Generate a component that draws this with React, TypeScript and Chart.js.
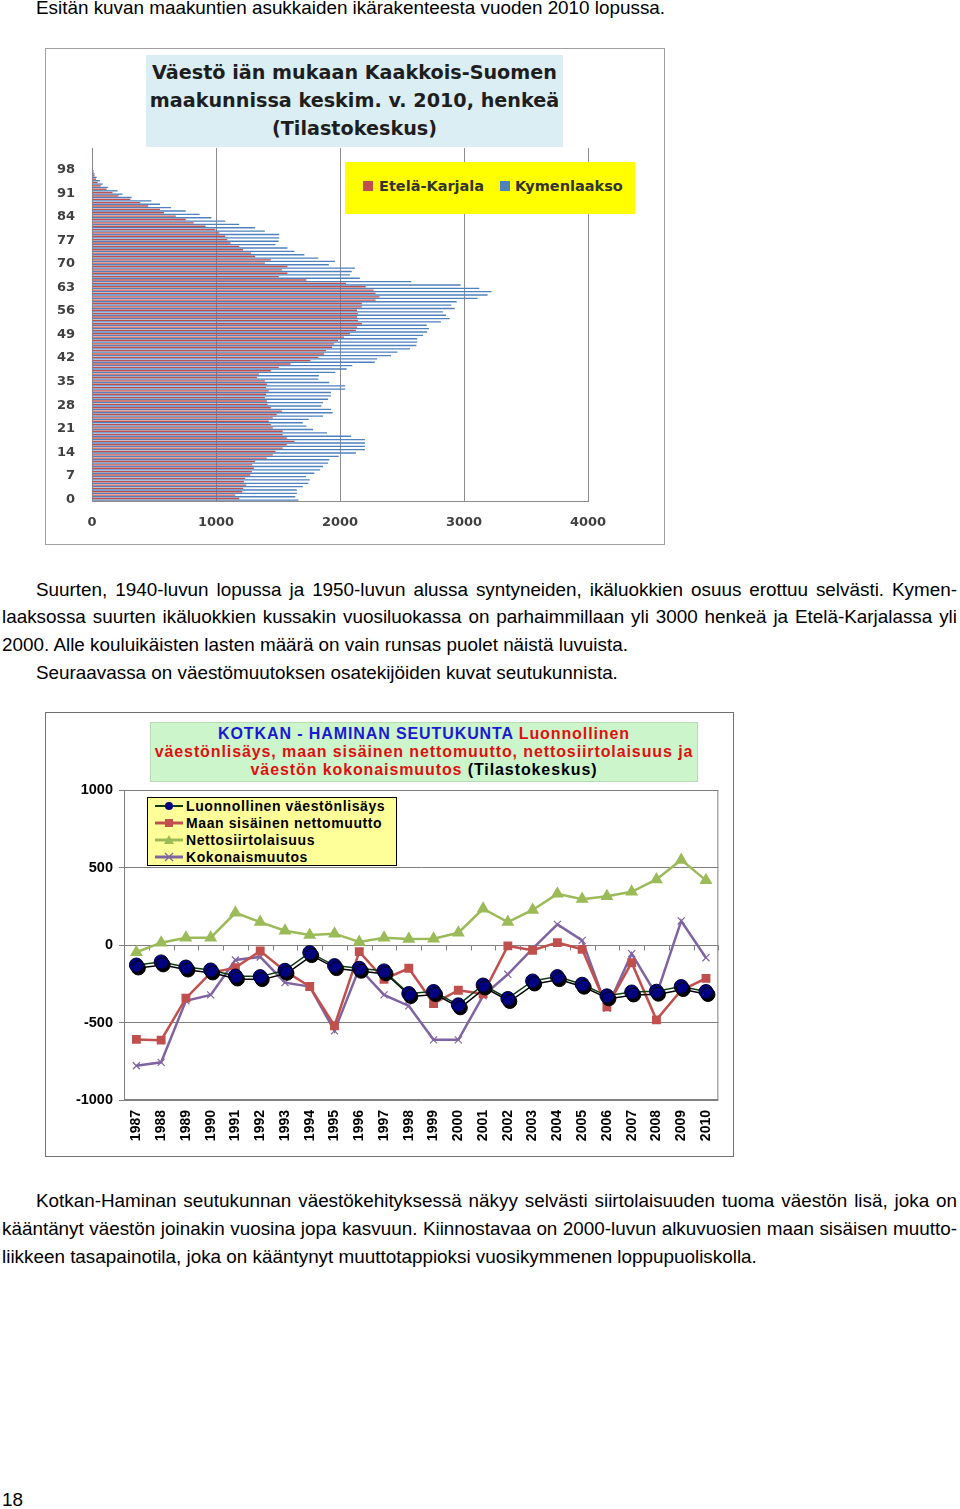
import React, { useEffect, useRef } from 'react';
import { Chart, registerables } from 'chart.js';

Chart.register(...registerables);

// ---------- Chart 1: population by age ----------
const AGES = ['0','1','2','3','4','5','6','7','8','9','10','11','12','13','14','15','16','17','18','19','20','21','22','23','24','25','26','27','28','29','30','31','32','33','34','35','36','37','38','39','40','41','42','43','44','45','46','47','48','49','50','51','52','53','54','55','56','57','58','59','60','61','62','63','64','65','66','67','68','69','70','71','72','73','74','75','76','77','78','79','80','81','82','83','84','85','86','87','88','89','90','91','92','93','94','95','96','97','98','99','100','101','102','103','104'];
const AGE_TICKS = ['0','7','14','21','28','35','42','49','56','63','70','77','84','91','98'];
const ETELA_KARJALA = [1187,1155,1212,1219,1244,1225,1235,1276,1289,1305,1292,1314,1410,1458,1480,1538,1570,1633,1570,1538,1538,1458,1442,1426,1458,1490,1531,1442,1416,1410,1394,1404,1426,1404,1410,1394,1330,1346,1442,1506,1601,1761,1825,1872,1888,1936,1952,1984,2032,2080,2128,2137,2176,2144,2137,2144,2137,2176,2176,2287,2319,2287,2271,2207,2048,1729,1506,1576,1531,1576,1394,1442,1314,1282,1218,1187,1117,1091,1075,1027,995,916,820,756,676,581,549,453,389,309,214,166,118,70,45,32,19,13,8,5,3,2,1,1,0];
const KYMENLAAKSO = [1665,1640,1652,1652,1700,1745,1755,1726,1793,1840,1863,1904,1914,1990,2128,2201,2201,2201,2201,2089,1895,1783,1729,1700,1748,1863,1940,1927,1850,1863,1904,1927,1927,2042,2042,1914,1825,1830,1962,2054,2099,2281,2300,2412,2463,2565,2616,2622,2622,2670,2702,2718,2700,2814,2884,2855,2830,2925,2897,2941,3110,3190,3222,3123,2973,2574,2160,2080,2095,2120,1910,1960,1825,1713,1633,1576,1480,1505,1510,1510,1394,1314,1187,1075,963,868,756,638,549,479,319,246,207,128,86,64,38,22,13,8,5,3,2,1,1];
const POP_MIN = 0;
const POP_MAX = 4000;
const POP_STEP = 1000;

// ---------- Chart 2: Kotka-Hamina components of change ----------
const YEARS = ['1987','1988','1989','1990','1991','1992','1993','1994','1995','1996','1997','1998','1999','2000','2001','2002','2003','2004','2005','2006','2007','2008','2009','2010'];
const LUONNOLLINEN = [-129,-109,-142,-161,-200,-204,-163,-49,-133,-150,-167,-313,-300,-386,-258,-345,-232,-204,-253,-328,-303,-298,-268,-300];
const MAAN_SISAINEN = [-609,-614,-343,-180,-146,-39,-167,-268,-521,-43,-221,-150,-378,-292,-315,-6,-34,15,-28,-399,-114,-483,-292,-215];
const NETTOSIIRTOLAISUUS = [-47,15,47,47,208,148,92,64,73,19,47,39,41,79,234,148,226,330,296,315,343,423,549,417];
const KOKONAISMUUTOS = [-779,-757,-360,-322,-97,-77,-243,-268,-554,-150,-322,-393,-612,-612,-328,-189,-24,133,30,-408,-56,-322,155,-82];
const CHG_MIN = -1000;
const CHG_MAX = 1000;
const CHG_STEP = 500;

const TXT = "'Liberation Sans', Arial, sans-serif";

function PyramidChart() {
  const ref = useRef<HTMLCanvasElement>(null);
  useEffect(() => {
    if (!ref.current) return;
    const chart = new Chart(ref.current, {
      type: 'bar',
      data: {
        labels: AGES,
        datasets: [
          { label: 'Etelä-Karjala', data: ETELA_KARJALA, backgroundColor: '#C0504D', barPercentage: 0.85, categoryPercentage: 0.95 },
          { label: 'Kymenlaakso', data: KYMENLAAKSO, backgroundColor: '#4F81BD', barPercentage: 0.85, categoryPercentage: 0.95 },
        ],
      },
      options: {
        indexAxis: 'y',
        animation: false,
        responsive: false,
        maintainAspectRatio: false,
        layout: { padding: { top: 99, right: 76, left: 0, bottom: 0 } },
        plugins: { legend: { display: false }, title: { display: false }, tooltip: { enabled: false } },
        scales: {
          x: {
            min: POP_MIN,
            max: POP_MAX,
            ticks: {
              stepSize: POP_STEP,
              font: { family: "'DejaVu Sans'", weight: 'bold', size: 13 },
              color: '#404040',
              padding: 14,
              callback: (v: any) => String(v),
            },
            grid: { color: '#8c8c8c', drawTicks: false },
            border: { color: '#8c8c8c' },
            afterFit: (s: any) => { s.height = 43; },
          },
          y: {
            reverse: true,
            grid: { display: false, drawTicks: false },
            border: { color: '#8c8c8c' },
            ticks: {
              autoSkip: false,
              font: { family: "'DejaVu Sans'", weight: 'bold', size: 13 },
              color: '#404040',
              padding: 17,
              callback: (_v: any, i: number) => (AGE_TICKS.includes(AGES[i]) ? AGES[i] : ''),
            },
            afterFit: (s: any) => { s.width = 46; },
          },
        },
      },
    });
    return () => chart.destroy();
  }, []);
  return <canvas ref={ref} width={618} height={495} style={{ position: 'absolute', left: 46, top: 49 }} />;
}

const chart2Plugin = {
  id: 'chart2Frame',
  beforeDatasetDraw(chart: any, args: any) {
    if (args.index === 0) {
      const ctx = chart.ctx;
      ctx.save();
      ctx.shadowColor = 'rgba(0,0,0,1)';
      ctx.shadowOffsetX = 2;
      ctx.shadowOffsetY = 3;
      ctx.shadowBlur = 0;
    }
  },
  afterDatasetDraw(chart: any, args: any) {
    if (args.index === 0) chart.ctx.restore();
  },
  beforeDatasetsDraw(chart: any) {
    const { ctx, chartArea, scales } = chart;
    ctx.save();
    ctx.strokeStyle = '#808080';
    ctx.lineWidth = 1;
    ctx.strokeRect(chartArea.left + 0.5, chartArea.top + 0.5, chartArea.right - chartArea.left - 1, chartArea.bottom - chartArea.top - 1);
    const y0 = Math.round(scales.y.getPixelForValue(0)) + 0.5;
    const n = YEARS.length;
    const w = (chartArea.right - chartArea.left) / n;
    ctx.beginPath();
    for (let i = 0; i <= n; i++) {
      const x = Math.round(chartArea.left + i * w) + 0.5;
      ctx.moveTo(x, y0);
      ctx.lineTo(x, y0 + 5);
    }
    ctx.stroke();
    ctx.restore();
  },
};

function ChangeChart() {
  const ref = useRef<HTMLCanvasElement>(null);
  useEffect(() => {
    if (!ref.current) return;
    const chart = new Chart(ref.current, {
      type: 'line',
      data: {
        labels: YEARS,
        datasets: [
          { label: 'Luonnollinen väestönlisäys', data: LUONNOLLINEN, borderColor: '#0f3d12', borderWidth: 1.5, pointStyle: 'circle', pointRadius: 7, pointBackgroundColor: '#000080', pointBorderColor: '#000030', pointBorderWidth: 1 },
          { label: 'Maan sisäinen nettomuutto', data: MAAN_SISAINEN, borderColor: '#C0504D', borderWidth: 2.5, pointStyle: 'rect', pointRadius: 4.5, pointBackgroundColor: '#C0504D', pointBorderColor: '#C0504D' },
          { label: 'Nettosiirtolaisuus', data: NETTOSIIRTOLAISUUS, borderColor: '#9BBB59', borderWidth: 2.5, pointStyle: 'triangle', pointRadius: 5, pointBackgroundColor: '#9BBB59', pointBorderColor: '#9BBB59' },
          { label: 'Kokonaismuutos', data: KOKONAISMUUTOS, borderColor: '#8064A2', borderWidth: 2.5, pointStyle: 'crossRot', pointRadius: 5, pointBackgroundColor: '#8064A2', pointBorderColor: '#8064A2', pointBorderWidth: 1.2 },
        ],
      },
      options: {
        animation: false,
        responsive: false,
        maintainAspectRatio: false,
        layout: { padding: { top: 77, right: 11, left: 0, bottom: 0 } },
        plugins: { legend: { display: false }, title: { display: false }, tooltip: { enabled: false } },
        scales: {
          x: {
            offset: true,
            grid: { display: false, drawTicks: false },
            border: { display: false },
            ticks: { minRotation: 90, maxRotation: 90, autoSkip: false, font: { family: TXT, weight: 'bold', size: 14 }, color: '#000', padding: 10 },
            afterFit: (s: any) => { s.height = 56; },
          },
          y: {
            min: CHG_MIN,
            max: CHG_MAX,
            ticks: { stepSize: CHG_STEP, font: { family: TXT, weight: 'bold', size: 14.5 }, color: '#000', padding: 6, callback: (v: any) => String(v) },
            grid: { color: '#808080', tickLength: 5 },
            border: { color: '#808080' },
            afterFit: (s: any) => { s.width = 78; },
          },
        },
      },
      plugins: [chart2Plugin],
    });
    return () => chart.destroy();
  }, []);
  return <canvas ref={ref} width={687} height={443} style={{ position: 'absolute', left: 46, top: 713 }} />;
}

const abs = (left: number, top: number, extra: React.CSSProperties = {}): React.CSSProperties => ({ position: 'absolute', left, top, ...extra });

function TextLine({ left, center, width, justify, children }: { left: number; center: number; width?: number; justify?: boolean; children: React.ReactNode }) {
  return (
    <div
      style={abs(left, center - 11, {
        width,
        fontFamily: TXT,
        fontSize: 18.87,
        lineHeight: '22px',
        color: '#000',
        whiteSpace: 'nowrap',
        textAlign: justify ? 'justify' : 'left',
        textAlignLast: justify ? 'justify' : 'auto',
      } as React.CSSProperties)}
    >
      {children}
    </div>
  );
}

function LegendSym({ kind }: { kind: string }) {
  return (
    <svg width={28} height={12} style={{ verticalAlign: 'middle', marginRight: 3, position: 'relative', top: -1 }}>
      {kind === 'circle' && (
        <>
          <line x1={0} y1={6} x2={28} y2={6} stroke="#0f3d12" strokeWidth={2} />
          <circle cx={14} cy={6} r={4} fill="#000080" />
        </>
      )}
      {kind === 'rect' && (
        <>
          <line x1={0} y1={6} x2={28} y2={6} stroke="#C0504D" strokeWidth={3} />
          <rect x={10} y={2} width={8} height={8} fill="#C0504D" />
        </>
      )}
      {kind === 'tri' && (
        <>
          <line x1={0} y1={6} x2={28} y2={6} stroke="#9BBB59" strokeWidth={3} />
          <polygon points="14,1 19,10 9,10" fill="#9BBB59" />
        </>
      )}
      {kind === 'cross' && (
        <>
          <line x1={0} y1={6} x2={28} y2={6} stroke="#8064A2" strokeWidth={3} />
          <line x1={10} y1={2} x2={18} y2={10} stroke="#8064A2" strokeWidth={1.2} />
          <line x1={18} y1={2} x2={10} y2={10} stroke="#8064A2" strokeWidth={1.2} />
        </>
      )}
    </svg>
  );
}

export default function App() {
  const legend2 = [
    { kind: 'circle', label: 'Luonnollinen väestönlisäys' },
    { kind: 'rect', label: 'Maan sisäinen nettomuutto' },
    { kind: 'tri', label: 'Nettosiirtolaisuus' },
    { kind: 'cross', label: 'Kokonaismuutos' },
  ];
  return (
    <div style={{ position: 'absolute', left: 0, top: 0, width: 960, height: 1509, background: '#fff', overflow: 'hidden' }}>
      <TextLine left={36} center={8}>Esitän kuvan maakuntien asukkaiden ikärakenteesta vuoden 2010 lopussa.</TextLine>

      {/* Chart 1 */}
      <div style={abs(45, 48, { width: 620, height: 497, border: '1px solid #a0a0a0', boxSizing: 'border-box' })} />
      <PyramidChart />
      <div
        style={abs(146, 55, {
          width: 417,
          height: 92,
          background: '#DBEEF4',
          textAlign: 'center',
          fontFamily: "'DejaVu Sans', sans-serif",
          fontWeight: 'bold',
          fontSize: 19.2,
          lineHeight: '28px',
          color: '#1e1e1e',
          paddingTop: 4,
          boxSizing: 'border-box',
          whiteSpace: 'nowrap',
        })}
      >
        Väestö iän mukaan Kaakkois-Suomen
        <br />
        maakunnissa keskim. v. 2010, henkeä
        <br />
        (Tilastokeskus)
      </div>
      <div style={abs(345, 162, { width: 290, height: 52, background: '#FFFF00' })}>
        <div style={abs(18, 19, { width: 10, height: 10, background: '#C0504D' })} />
        <div style={abs(34, 14, { fontFamily: "'DejaVu Sans', sans-serif", fontWeight: 'bold', fontSize: 14.5, lineHeight: '20px', color: '#333', whiteSpace: 'nowrap' })}>Etelä-Karjala</div>
        <div style={abs(155, 19, { width: 10, height: 10, background: '#4F81BD' })} />
        <div style={abs(170, 14, { fontFamily: "'DejaVu Sans', sans-serif", fontWeight: 'bold', fontSize: 14.5, lineHeight: '20px', color: '#333', whiteSpace: 'nowrap' })}>Kymenlaakso</div>
      </div>

      <TextLine left={36} center={590} width={921} justify>Suurten, 1940-luvun lopussa ja 1950-luvun alussa syntyneiden, ikäluokkien osuus erottuu selvästi. Kymen-</TextLine>
      <TextLine left={2} center={617} width={955} justify>laaksossa suurten ikäluokkien kussakin vuosiluokassa on parhaimmillaan yli 3000 henkeä ja Etelä-Karjalassa yli</TextLine>
      <TextLine left={2} center={645}>2000. Alle kouluikäisten lasten määrä on vain runsas puolet näistä luvuista.</TextLine>
      <TextLine left={36} center={673}>Seuraavassa on väestömuutoksen osatekijöiden kuvat seutukunnista.</TextLine>

      {/* Chart 2 */}
      <div style={abs(45, 712, { width: 689, height: 445, border: '1px solid #707070', boxSizing: 'border-box' })} />
      <ChangeChart />
      <div
        style={abs(150, 722, {
          width: 548,
          height: 60,
          background: '#CCF5CC',
          border: '1px solid #b8dcb8',
          boxSizing: 'border-box',
          textAlign: 'center',
          fontFamily: TXT,
          fontWeight: 'bold',
          fontSize: 16,
          letterSpacing: 0.9,
          lineHeight: '18px',
          paddingTop: 2,
          whiteSpace: 'nowrap',
        })}
      >
        <span style={{ color: '#1a1ad0' }}>KOTKAN - HAMINAN SEUTUKUNTA </span>
        <span style={{ color: '#e01010' }}>Luonnollinen</span>
        <br />
        <span style={{ color: '#e01010' }}>väestönlisäys, maan sisäinen nettomuutto, nettosiirtolaisuus ja</span>
        <br />
        <span style={{ color: '#e01010' }}>väestön kokonaismuutos </span>
        <span style={{ color: '#000' }}>(Tilastokeskus)</span>
      </div>
      <div
        style={abs(147, 797, {
          width: 250,
          height: 69,
          background: '#FFFF99',
          border: '1px solid #000',
          boxSizing: 'border-box',
          paddingTop: 0,
          paddingLeft: 7,
        })}
      >
        {legend2.map((it) => (
          <div key={it.label} style={{ height: 17, lineHeight: '17px', fontFamily: TXT, fontWeight: 'bold', fontSize: 14, letterSpacing: 0.6, color: '#000', whiteSpace: 'nowrap' }}>
            <LegendSym kind={it.kind} />
            {it.label}
          </div>
        ))}
      </div>

      <TextLine left={36} center={1201} width={921} justify>Kotkan-Haminan seutukunnan väestökehityksessä näkyy selvästi siirtolaisuuden tuoma väestön lisä, joka on</TextLine>
      <TextLine left={2} center={1229} width={955} justify>kääntänyt väestön joinakin vuosina jopa kasvuun. Kiinnostavaa on 2000-luvun alkuvuosien maan sisäisen muutto-</TextLine>
      <TextLine left={2} center={1257}>liikkeen tasapainotila, joka on kääntynyt muuttotappioksi vuosikymmenen loppupuoliskolla.</TextLine>

      <TextLine left={2} center={1500}>18</TextLine>
    </div>
  );
}
